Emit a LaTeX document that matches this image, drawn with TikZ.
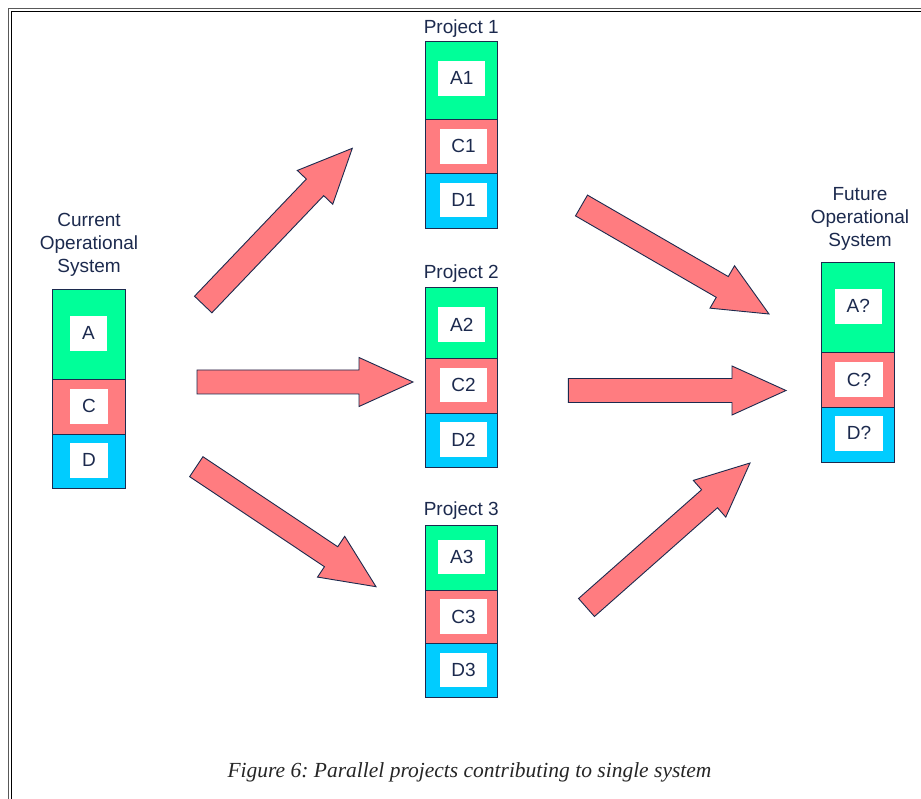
\documentclass[tikz,border=0pt]{standalone}
\usepackage{fontspec}
\setmainfont{Liberation Sans}
\newfontfamily\captionfont{Liberation Serif}
\usetikzlibrary{calc}

\definecolor{navy}{RGB}{28,42,78}
\definecolor{segGreen}{RGB}{0,255,153}
\definecolor{segRed}{RGB}{255,124,128}
\definecolor{segBlue}{RGB}{0,204,255}

\tikzset{
  txt/.style={text=navy, font=\fontsize{19}{23}\selectfont, inner sep=0pt},
  seg/.style={draw=navy, line width=0.9pt, minimum width=72.6pt, inner sep=0pt},
  segA/.style={seg, fill=segGreen},
  segC/.style={seg, fill=segRed},
  segD/.style={seg, fill=segBlue},
  lbl/.style={fill=white, txt, minimum height=34.5pt},
  blockarrow/.style={draw=navy, line width=0.9pt, fill=segRed, line join=miter},
}

% block arrow from a tail coordinate #1 to a tip coordinate #2
\newcommand\blockarrowdraw[2]{%
  \draw[blockarrow]
    ($(#1)!12pt!90:(#2)$) --
    ($($(#2)!54pt!(#1)$)!12pt!90:(#2)$) --
    ($($(#2)!54pt!(#1)$)!24.5pt!90:(#2)$) --
    (#2) --
    ($($(#2)!54pt!(#1)$)!24.5pt!-90:(#2)$) --
    ($($(#2)!54pt!(#1)$)!12pt!-90:(#2)$) --
    ($(#1)!12pt!-90:(#2)$) -- cycle;}

\begin{document}
\begin{tikzpicture}[x=1pt, y=-1pt]
\useasboundingbox (0,0) rectangle (921,799);
\fill[white] (0,0) rectangle (921,799);

% frame
\draw[gray!70!black, line width=1.4pt] (8.5,799) -- (8.5,8.5) -- (921,8.5);
\draw[black, line width=1.4pt] (11.5,799) -- (11.5,11.5) -- (921,11.5);

% current operational system
\node[txt, align=center] (curT) at (89,245) {Current\\Operational\\System};
\node[segA, minimum height=90pt] (curA) at (89,334.3) {};
\node[segC, minimum height=55pt] (curC) at (89,406.8) {};
\node[segD, minimum height=54pt] (curD) at (89,461.3) {};
\node[lbl, minimum width=37pt] (curAl) at (88.5,333.3) {A};
\node[lbl, minimum width=38pt] (curCl) at (89,406.3) {C};
\node[lbl, minimum width=38pt] (curDl) at (89,460.3) {D};

% project 1
\node[txt] (p1T) at (461.3,29) {Project 1};
\node[segA, minimum height=78.3pt] (p1A) at (461.3,80.2) {};
\node[segC, minimum height=54.7pt] (p1C) at (461.3,146.7) {};
\node[segD, minimum height=54.7pt] (p1D) at (461.3,201.3) {};
\node[lbl, minimum width=46.7pt] (p1Al) at (461.7,78.3) {A1};
\node[lbl, minimum width=47.7pt] (p1Cl) at (463.5,146.3) {C1};
\node[lbl, minimum width=47.7pt] (p1Dl) at (463.5,200) {D1};

% project 2
\node[txt] (p2T) at (461.3,274) {Project 2};
\node[segA, minimum height=71pt] (p2A) at (461.3,322.5) {};
\node[segC, minimum height=55pt] (p2C) at (461.3,385.5) {};
\node[segD, minimum height=54pt] (p2D) at (461.3,440) {};
\node[lbl, minimum width=46.7pt] (p2Al) at (461.7,324.5) {A2};
\node[lbl, minimum width=47.7pt] (p2Cl) at (463.5,385) {C2};
\node[lbl, minimum width=47.7pt] (p2Dl) at (463.5,439.5) {D2};

% project 3
\node[txt] (p3T) at (461.3,511) {Project 3};
\node[segA, minimum height=65pt] (p3A) at (461.3,557.5) {};
\node[segC, minimum height=53pt] (p3C) at (461.3,616.5) {};
\node[segD, minimum height=54pt] (p3D) at (461.3,670) {};
\node[lbl, minimum width=46.7pt] (p3Al) at (461.7,557) {A3};
\node[lbl, minimum width=47.7pt] (p3Cl) at (463.5,616.5) {C3};
\node[lbl, minimum width=47.7pt] (p3Dl) at (463.5,670) {D3};

% future operational system
\node[txt, align=center] (futT) at (860,219) {Future\\Operational\\System};
\node[segA, minimum height=90.4pt] (futA) at (858,307.5) {};
\node[segC, minimum height=54.6pt] (futC) at (858,380) {};
\node[segD, minimum height=55pt] (futD) at (858,434.8) {};
\node[lbl, minimum width=46.7pt] (futAl) at (858.3,306.3) {A?};
\node[lbl, minimum width=48pt] (futCl) at (859,379.5) {C?};
\node[lbl, minimum width=48pt] (futDl) at (859,433.3) {D?};

% arrow end points
\coordinate (a1s) at (203.2,304.5); \coordinate (a1e) at (352.3,148.3);
\coordinate (a2s) at (197,382);     \coordinate (a2e) at (413,382);
\coordinate (a3s) at (196.3,466.7); \coordinate (a3e) at (376,586.7);
\coordinate (b1s) at (581.5,205.5); \coordinate (b1e) at (769,314);
\coordinate (b2s) at (568.3,390.5); \coordinate (b2e) at (786,390.5);
\coordinate (b3s) at (586.5,607.5); \coordinate (b3e) at (750,463);

\blockarrowdraw{a1s}{a1e}
\blockarrowdraw{a2s}{a2e}
\blockarrowdraw{a3s}{a3e}
\blockarrowdraw{b1s}{b1e}
\blockarrowdraw{b2s}{b2e}
\blockarrowdraw{b3s}{b3e}

% caption
\node[font=\captionfont\itshape\fontsize{21.5}{26}\selectfont, text=black!85, inner sep=0pt] (cap) at (469.5,772) {\frenchspacing Figure 6: Parallel projects contributing to single system};
\end{tikzpicture}
\end{document}
